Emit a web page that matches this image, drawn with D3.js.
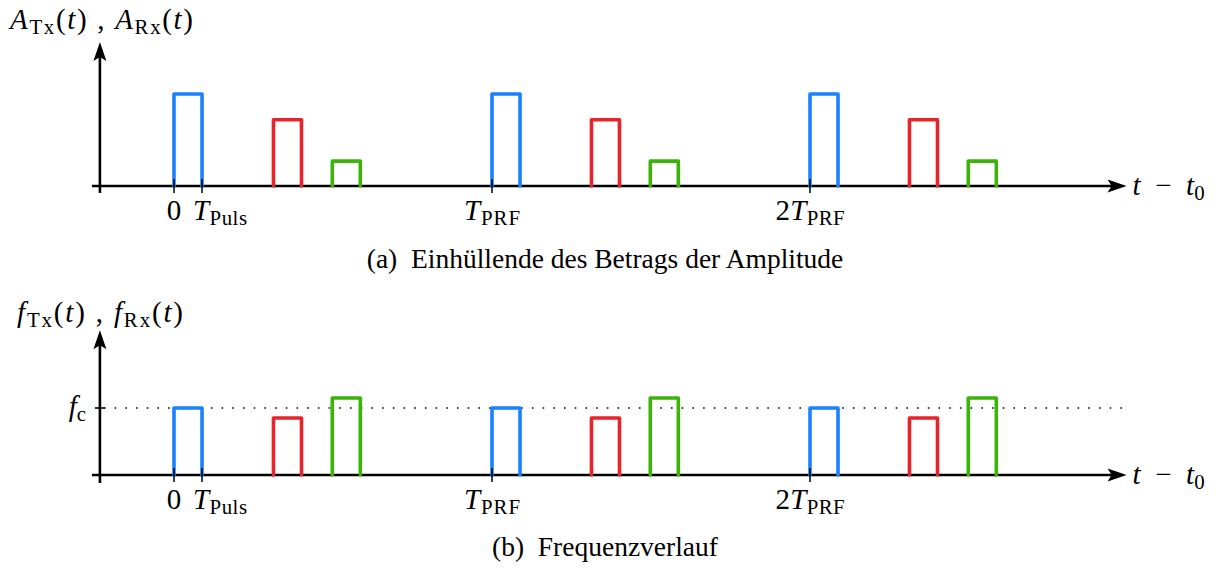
<!DOCTYPE html>
<html><head><meta charset="utf-8">
<script src="https://cdn.jsdelivr.net/npm/d3@7"></script>
<style>
html,body{margin:0;padding:0;background:#fff;}
svg{display:block;}
text{font-family:"Liberation Serif","Times New Roman",Times,serif;white-space:pre;}
</style></head>
<body>
<svg id="chart" width="1216" height="569"></svg>
<script>
// ---- data (time in units of T_Puls) ----
const T_PULS = 1;
const T_PRF = 11.35;
const periods = [0, 1, 2];
const pulseSignals = ["Tx", "Rx1", "Rx2"];
const pulseDelays = [0, 3.55, 5.65];           // start of each pulse within a period
const pulseColors = ["#1a82ff", "#e8242b", "#3cb308"];
const amplitudeValues = [1.0, 0.72, 0.27];      // panel (a), relative
const frequencyValues = [1.0, 0.85, 1.15];      // panel (b), relative to f_c
const fc = 1.0;
const tickTimes = [0, T_PULS, T_PRF, 2 * T_PRF];
const tickLabels = [
  [{t:"0", s:"r"}],
  [{t:"T", s:"i"}, {t:"Puls", s:"sub"}],
  [{t:"T", s:"i"}, {t:"PRF", s:"sub"}],
  [{t:"2", s:"r"}, {t:"T", s:"i"}, {t:"PRF", s:"sub"}]
];
const xAxisLabel = [{t:"t", s:"i"}, {t:"  −  ", s:"r"}, {t:"t", s:"i"}, {t:"0", s:"sub"}];
const yLabelA = [{t:"A", s:"i"}, {t:"Tx", s:"sub"}, {t:"(", s:"r"}, {t:"t", s:"i"}, {t:") , ", s:"r"},
                 {t:"A", s:"i"}, {t:"Rx", s:"sub"}, {t:"(", s:"r"}, {t:"t", s:"i"}, {t:")", s:"r"}];
const yLabelF = [{t:"f", s:"i"}, {t:"Tx", s:"sub"}, {t:"(", s:"r"}, {t:"t", s:"i"}, {t:") , ", s:"r"},
                 {t:"f", s:"i"}, {t:"Rx", s:"sub"}, {t:"(", s:"r"}, {t:"t", s:"i"}, {t:")", s:"r"}];
const fcLabel = [{t:"f", s:"i"}, {t:"c", s:"sub"}];
const captions = ["(a)  Einhüllende des Betrags der Amplitude", "(b)  Frequenzverlauf"];

// ---- layout ----
const svg = d3.select("#chart");
const FS = 29;
const x = d3.scaleLinear().domain([0, 2 * T_PRF]).range([174, 810]);
const xMin = -2.93, xMax = 34.0;
// label placement: [anchor, dx, target width]
const tickLayout = [["middle", 0, null], ["start", -9, 54], ["middle", 0, 56], ["middle", 0, 69]];

const panels = [
  { values: amplitudeValues, y: d3.scaleLinear().domain([0, 1]).range([186, 94]),
    yTop: 1.565, yBot: -0.075, label: yLabelA, labelX: 10, labelY: 29, labelW: 183,
    caption: captions[0], capX: 605, capY: 268, tickLabelY: 220, fc: false },
  { values: frequencyValues, y: d3.scaleLinear().domain([0, 1]).range([475, 408]),
    yTop: 2.16, yBot: -0.12, label: yLabelF, labelX: 17, labelY: 322, labelW: 166,
    caption: captions[1], capX: 605, capY: 556, tickLabelY: 509, fc: true }
];

function mathText(g, segs, xPos, yPos, anchor, width) {
  const t = g.append("text").attr("x", xPos).attr("y", yPos)
    .attr("text-anchor", anchor || "start").attr("font-size", FS).attr("fill", "#000");
  let sub = false;
  segs.forEach(s => {
    const ts = t.append("tspan").text(s.t);
    if (s.s === "i") ts.attr("font-style", "italic");
    if (s.s === "sub") {
      ts.attr("font-size", FS * 0.72).attr("dy", sub ? 0 : 5);
      sub = true;
    } else if (sub) {
      ts.attr("dy", -5);
      sub = false;
    }
  });
  if (width) t.attr("textLength", width).attr("lengthAdjust", "spacing");
  return t;
}

function arrowHead(g, tipX, tipY, dir) {
  const L = 19, W = 6.5, back = 4;
  let p;
  if (dir === "right") p = `M${tipX},${tipY} L${tipX - L},${tipY - W} L${tipX - L + back},${tipY} L${tipX - L},${tipY + W} Z`;
  else p = `M${tipX},${tipY} L${tipX - W},${tipY + L} L${tipX},${tipY + L - back} L${tipX + W},${tipY + L} Z`;
  g.append("path").attr("d", p).attr("fill", "#000");
}

panels.forEach(P => {
  const g = svg.append("g");
  const y = P.y;
  const y0 = y(0);
  const yAxisX = x(xMin) + 8;

  if (P.fc) {
    g.append("line").attr("x1", yAxisX + 4).attr("x2", x(xMax))
      .attr("y1", y(fc)).attr("y2", y(fc))
      .attr("stroke", "#000").attr("stroke-width", 1.6)
      .attr("stroke-dasharray", "1.6 9.1");
    g.append("line").attr("x1", yAxisX - 5).attr("x2", yAxisX + 5)
      .attr("y1", y(fc)).attr("y2", y(fc)).attr("stroke", "#000").attr("stroke-width", 1.6);
    mathText(g, fcLabel, 86, y(fc) + 8, "end");
  }

  // x axis
  g.append("line").attr("x1", x(xMin)).attr("x2", x(xMax) - 12)
    .attr("y1", y0).attr("y2", y0).attr("stroke", "#000").attr("stroke-width", 2.6);
  arrowHead(g, x(xMax), y0, "right");
  mathText(g, xAxisLabel, x(xMax) + 6, y0 + 9, "start", 72);

  // y axis
  g.append("line").attr("x1", yAxisX).attr("x2", yAxisX)
    .attr("y1", y(P.yBot)).attr("y2", y(P.yTop) + 12).attr("stroke", "#000").attr("stroke-width", 2.6);
  arrowHead(g, yAxisX, y(P.yTop), "up");
  mathText(g, P.label, P.labelX, P.labelY, "start", P.labelW);

  // pulses
  periods.forEach(k => {
    pulseSignals.forEach((s, i) => {
      const t0 = k * T_PRF + pulseDelays[i];
      const t1 = t0 + T_PULS;
      const v = P.values[i];
      const path = d3.path();
      path.moveTo(x(t0), y0);
      path.lineTo(x(t0), y(v));
      path.lineTo(x(t1), y(v));
      path.lineTo(x(t1), y0);
      g.append("path").attr("d", path.toString()).attr("fill", "none")
        .attr("stroke", pulseColors[i]).attr("stroke-width", 3.6)
        .attr("stroke-linejoin", "round").attr("stroke-linecap", "round");
    });
  });

  // ticks
  tickTimes.forEach((t, i) => {
    g.append("line").attr("x1", x(t)).attr("x2", x(t))
      .attr("y1", y0 - 7).attr("y2", y0 + 7).attr("stroke", "#000").attr("stroke-width", 1.5);
    const [anchor, dx, w] = tickLayout[i];
    mathText(g, tickLabels[i], x(t) + dx, P.tickLabelY, anchor, w);
  });

  // caption
  g.append("text").attr("x", P.capX).attr("y", P.capY).attr("text-anchor", "middle")
    .attr("font-size", 27.5).attr("fill", "#000").text(P.caption);
});
</script>
</body></html>
